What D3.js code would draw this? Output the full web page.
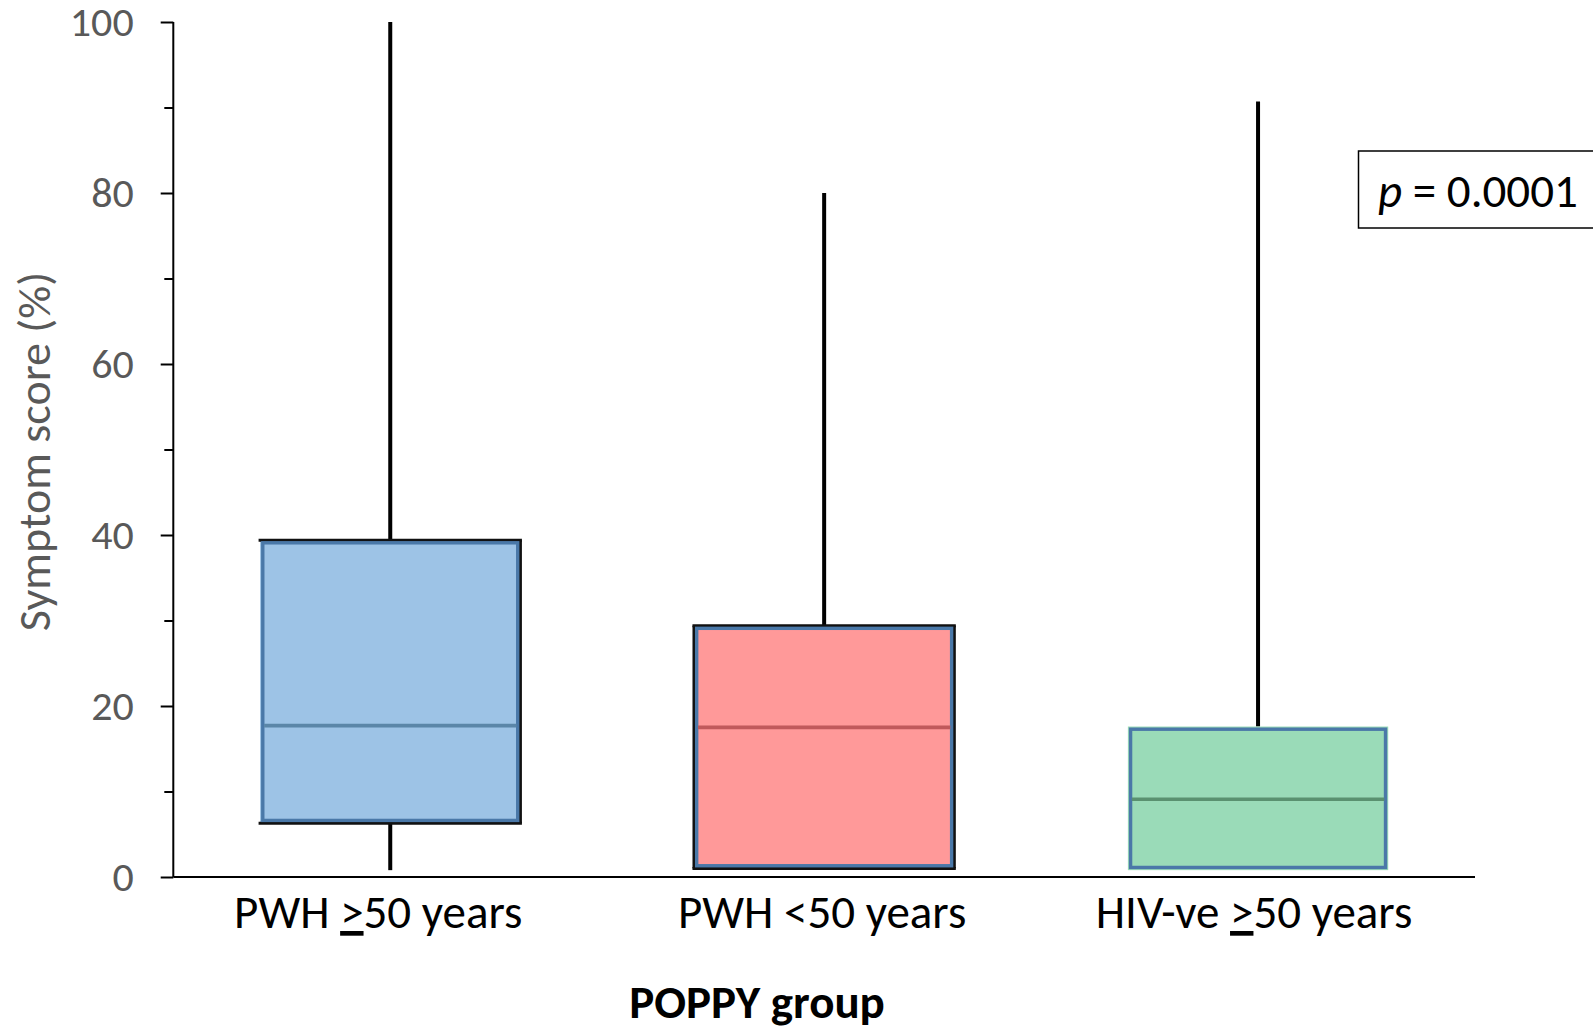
<!DOCTYPE html>
<html>
<head>
<meta charset="utf-8">
<script src="https://cdn.jsdelivr.net/npm/d3@7"></script>
<style>
  html, body { margin: 0; padding: 0; background: #fff; }
  svg { display: block; }
  text { font-family: Carlito, Lato, "Open Sans", sans-serif; }
</style>
</head>
<body>
<svg id="chart" width="1593" height="1032"></svg>
<script>
// Symptom score (%) by POPPY group: min, Q1, median, Q3, max
const groups  = ["PWH ≥50 years", "PWH <50 years", "HIV-ve ≥50 years"];
const labelParts = [["PWH ", ">", "50 years"], ["PWH <50 years", "", ""], ["HIV-ve ", ">", "50 years"]];
const minVals = [0.8, 1.0, 0.8];
const q1Vals  = [6.3, 1.0, 0.8];
const medVals = [17.7, 17.5, 9.1];
const q3Vals  = [39.4, 29.4, 17.6];
const maxVals = [100, 80, 90.7];
const yTicks  = [0, 20, 40, 60, 80, 100];
const yMinorTicks = [10, 30, 50, 70, 90];
const pLabel = "0.0001";

const fills   = ["#9dc3e6", "#ff9999", "#9adbb8"];
const medians = ["#5b86a8", "#c0595b", "#5a9170"];
// sides that carry the dark outer outline
const darkSides = [["top", "right", "bottom"], ["left", "top", "right", "bottom"], []];

const svg = d3.select("#chart");
const x0 = 173.3, x1 = 1475, yTop = 22, yBot = 877;

const x = d3.scaleBand().domain(groups).range([x0, x1]).paddingInner(0.4).paddingOuter(0.2);
const y = d3.scaleLinear().domain([0, 100]).range([yBot, yTop]);

const data = groups.map((g, i) => ({
  g, i, min: minVals[i], q1: q1Vals[i], med: medVals[i], q3: q3Vals[i], max: maxVals[i]
}));

// whiskers
const whisk = svg.append("g");
data.forEach(d => {
  const cx = x(d.g) + x.bandwidth() / 2;
  whisk.append("line").attr("x1", cx).attr("x2", cx).attr("y1", y(d.max)).attr("y2", y(d.q3))
    .attr("stroke", "#000").attr("stroke-width", 4);
  whisk.append("line").attr("x1", cx).attr("x2", cx).attr("y1", y(d.q1)).attr("y2", y(d.min))
    .attr("stroke", "#000").attr("stroke-width", 4);
});

// boxes
const boxes = svg.append("g");
data.forEach(d => {
  const bx = x(d.g), bw = x.bandwidth(), by = y(d.q3), bh = y(d.q1) - y(d.q3);
  boxes.append("rect").attr("x", bx).attr("y", by).attr("width", bw).attr("height", bh)
    .attr("fill", fills[d.i]);
  const sides = {
    top:    [bx - 1.5, by, bx + bw + 1.5, by],
    bottom: [bx - 1.5, by + bh, bx + bw + 1.5, by + bh],
    left:   [bx, by, bx, by + bh],
    right:  [bx + bw, by, bx + bw, by + bh]
  };
  darkSides[d.i].forEach(s => {
    const c = sides[s];
    boxes.append("line").attr("x1", c[0]).attr("y1", c[1]).attr("x2", c[2]).attr("y2", c[3])
      .attr("stroke", "#111").attr("stroke-width", 3);
  });
  boxes.append("rect").attr("x", bx + 2.7).attr("y", by + 2.7)
    .attr("width", bw - 5.4).attr("height", Math.max(0, bh - 5.4))
    .attr("fill", "none").attr("stroke", "#4a78a8").attr("stroke-width", 3.4);
  boxes.append("line").attr("x1", bx + 4).attr("x2", bx + bw - 4)
    .attr("y1", y(d.med)).attr("y2", y(d.med))
    .attr("stroke", medians[d.i]).attr("stroke-width", 3.6);
});

// y axis
const yAxis = svg.append("g").attr("transform", `translate(${x0},0)`)
  .call(d3.axisLeft(y).tickValues(yTicks).tickSize(12.6).tickPadding(27));
yAxis.select(".domain").attr("stroke", "#000").attr("stroke-width", 2)
  .attr("d", `M0,${yTop}V${yBot}`);
yAxis.selectAll(".tick line").attr("stroke", "#000").attr("stroke-width", 2);
yAxis.selectAll(".tick text").attr("fill", "#595959").attr("font-size", 42)
  .attr("font-family", "Carlito, Lato, sans-serif");

const yMinor = svg.append("g").attr("transform", `translate(${x0},0)`)
  .call(d3.axisLeft(y).tickValues(yMinorTicks).tickSize(9).tickFormat(""));
yMinor.select(".domain").remove();
yMinor.selectAll(".tick line").attr("stroke", "#000").attr("stroke-width", 2);

// x axis
const xAxis = svg.append("g").attr("transform", `translate(0,${yBot})`)
  .call(d3.axisBottom(x).tickSize(0).tickFormat(""));
xAxis.select(".domain").attr("stroke", "#000").attr("stroke-width", 2)
  .attr("d", `M${x0},0H${x1}`);

// category labels (with underlined ">" standing for "≥")
const labelShift = [-12, -2, -4];
data.forEach(d => {
  const t = svg.append("text")
    .attr("x", x(d.g) + x.bandwidth() / 2 + labelShift[d.i])
    .attr("y", 928)
    .attr("text-anchor", "middle")
    .attr("font-size", 47)
    .attr("fill", "#000");
  const parts = labelParts[d.i];
  t.append("tspan").text(parts[0]);
  if (parts[1]) t.append("tspan").style("text-decoration", "underline").text(parts[1]);
  if (parts[2]) t.append("tspan").text(parts[2]);
});

// axis titles
svg.append("text")
  .attr("transform", `translate(50,${(yTop + yBot) / 2 + 2}) rotate(-90)`)
  .attr("text-anchor", "middle")
  .attr("font-size", 46)
  .attr("fill", "#595959")
  .text("Symptom score (%)");

svg.append("text")
  .attr("x", 757).attr("y", 1018)
  .attr("text-anchor", "middle")
  .attr("font-size", 47)
  .attr("font-weight", "bold")
  .attr("fill", "#000")
  .text("POPPY group");

// p-value annotation
svg.append("rect")
  .attr("x", 1358.5).attr("y", 151).attr("width", 300).attr("height", 77)
  .attr("fill", "#fff").attr("stroke", "#000").attr("stroke-width", 1.5);
const pt = svg.append("text").attr("x", 1378).attr("y", 207).attr("font-size", 47).attr("fill", "#000");
pt.append("tspan").attr("font-style", "italic").text("p");
pt.append("tspan").text(" = " + pLabel);
</script>
</body>
</html>
